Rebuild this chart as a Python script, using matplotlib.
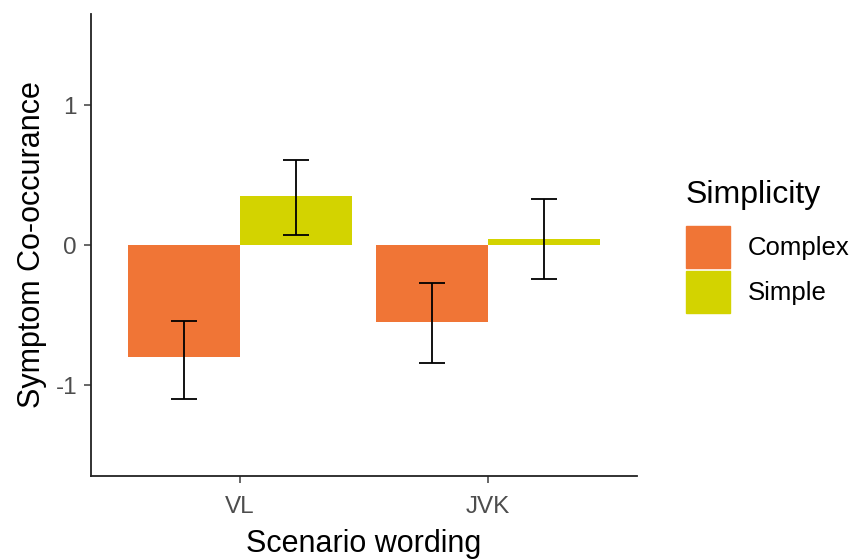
import numpy as np
import matplotlib.pyplot as plt
from matplotlib.patches import Rectangle

plt.rcParams['font.family'] = ['Liberation Sans', 'DejaVu Sans']
plt.rcParams['axes.unicode_minus'] = False

# data
scenarios = ["VL", "JVK"]
groups = ["Complex", "Simple"]
means_complex = [-0.80, -0.55]
means_simple = [0.35, 0.04]
lo_complex = [-1.10, -0.84]
hi_complex = [-0.54, -0.27]
lo_simple = [0.07, -0.24]
hi_simple = [0.61, 0.33]
colors = {"Complex": "#F07536", "Simple": "#D3D300"}

fig = plt.figure(figsize=(8.54, 5.6), dpi=100)
ax = fig.add_axes([91 / 854, 84 / 560, 546 / 854, 462 / 560])

x = np.arange(1, len(scenarios) + 1)
w = 0.45
series = [(means_complex, lo_complex, hi_complex, "Complex", -w / 2),
          (means_simple, lo_simple, hi_simple, "Simple", w / 2)]
for means, lo, hi, name, off in series:
    ax.bar(x + off, means, width=w, color=colors[name], label=name)
    ax.vlines(x + off, lo, hi, color="black", lw=1.3)
    for xi, l, h in zip(x + off, lo, hi):
        ax.hlines([l, h], xi - 0.052, xi + 0.052, color="black", lw=1.3)

ax.set_xlim(0.4, 2.6)
ax.set_ylim(-1.65, 1.65)
ax.set_yticks([-1, 0, 1])
ax.set_xticks(x)
ax.set_xticklabels(scenarios)
ax.tick_params(colors="#4D4D4D", labelsize=17.5, length=5, width=1.2)
ax.tick_params(axis="x", pad=9.5)
ax.tick_params(axis="y", pad=5)
for s in ["top", "right"]:
    ax.spines[s].set_visible(False)
for s in ["left", "bottom"]:
    ax.spines[s].set_linewidth(1.3)
    ax.spines[s].set_color("#222222")
ax.set_xlabel("Scenario wording", fontsize=22, labelpad=8)
ax.set_ylabel("Symptom Co-occurance", fontsize=22, labelpad=6)

# legend drawn in figure pixels
fig.text(686 / 854, 1 - 195 / 560, "Simplicity", fontsize=23, va="center", ha="left")
for i, name in enumerate(groups):
    y0 = 226 + i * 45
    fig.patches.append(Rectangle((686 / 854, 1 - (y0 + 42) / 560), 44 / 854, 42 / 560,
                                 transform=fig.transFigure, color=colors[name]))
    fig.text(748 / 854, 1 - (y0 + 22) / 560, name, fontsize=18.5, va="center", ha="left")

fig.savefig("out.png", dpi=100)
